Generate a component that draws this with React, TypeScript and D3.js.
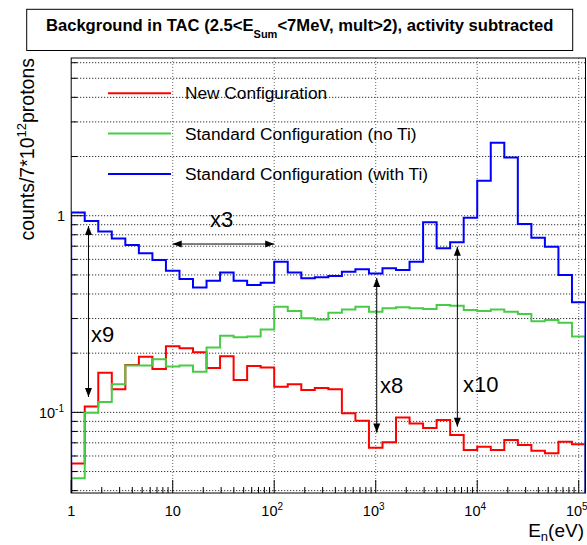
import * as d3 from "d3"

// histogram binning: 38 log bins, 7.5 per decade, starting at 1 eV
const nBins = 38
const binsPerDecade = 7.5

// counts / 7*10^12 protons, one value per bin
const newConfig = [
  0.055, 0.107, 0.159, 0.131, 0.174, 0.192, 0.166, 0.217, 0.212, 0.202,
  0.168, 0.193, 0.146, 0.172, 0.169, 0.135, 0.139, 0.13, 0.133, 0.131,
  0.099, 0.0906, 0.066, 0.0704, 0.0943, 0.0879, 0.0832, 0.0914, 0.0767, 0.0643,
  0.0668, 0.0643, 0.0723, 0.0682, 0.0638, 0.0619, 0.0709, 0.0688,
]
const stdNoTi = [
  0.0463, 0.0995, 0.113, 0.139, 0.173, 0.173, 0.186, 0.171, 0.173, 0.161,
  0.214, 0.245, 0.241, 0.243, 0.264, 0.344, 0.328, 0.301, 0.297, 0.321,
  0.334, 0.344, 0.325, 0.338, 0.342, 0.338, 0.335, 0.352, 0.348, 0.332,
  0.328, 0.334, 0.325, 0.316, 0.291, 0.295, 0.286, 0.243,
]
const stdWithTi = [
  1.04, 0.94, 0.831, 0.766, 0.71, 0.644, 0.595, 0.525, 0.476, 0.432,
  0.467, 0.515, 0.467, 0.444, 0.456, 0.583, 0.515, 0.481, 0.486, 0.494,
  0.519, 0.534, 0.509, 0.54, 0.529, 0.583, 0.926, 0.683, 0.732, 0.977,
  1.507, 2.35, 1.98, 0.908, 0.773, 0.695, 0.499, 0.363,
]

const seriesNames = [
  "New Configuration",
  "Standard Configuration (no Ti)",
  "Standard Configuration (with Ti)",
]
const seriesColors = ["#ff0000", "#48cc48", "#0000ff"]
const seriesValues = [newConfig, stdNoTi, stdWithTi]

const xDecades = [1, 10, 100, 1000, 10000, 100000]
const xDecadeExp = ["", "", "2", "3", "4", "5"]
const yGrid = [
  0.04, 0.05, 0.06, 0.07, 0.08, 0.09, 0.1, 0.2, 0.3, 0.4, 0.5, 0.6, 0.7, 0.8, 0.9,
  1, 2, 3, 4, 5, 6,
]

// factor annotations (data coordinates)
const arrows = [
  { x1: 10, y1: 0.718, x2: 100, y2: 0.718 },
  { x1: 1.48, y1: 0.886, x2: 1.48, y2: 0.1197 },
  { x1: 1023, y1: 0.482, x2: 1023, y2: 0.0789 },
  { x1: 6370, y1: 0.696, x2: 6370, y2: 0.0846 },
]
const factorLabels = [
  { x: 23.3, y: 0.876, text: "x3" },
  { x: 1.57, y: 0.2286, text: "x9" },
  { x: 1102, y: 0.1253, text: "x8" },
  { x: 7245, y: 0.1273, text: "x10" },
]

const font = "'Liberation Sans', Arial, Helvetica, sans-serif"

const App = () => {
  const left = 71.2
  const right = 585.5
  const top = 58
  const bottom = 493

  const xMax = Math.pow(10, nBins / binsPerDecade)
  const x = d3.scaleLog().domain([1, xMax]).range([left, right])
  const y = d3.scaleLog().domain([0.0389, 6.34]).range([bottom, top])

  const edges = d3.range(nBins + 1).map((i) => Math.pow(10, i / binsPerDecade))

  const stepPath = (vals: number[]) => {
    let d = `M${x(edges[0])},${bottom}`
    vals.forEach((v, i) => {
      d += `L${x(edges[i])},${y(v)}L${x(edges[i + 1])},${y(v)}`
    })
    d += `L${x(edges[nBins])},${bottom}`
    return d
  }

  const xMinor: number[] = []
  for (let dec = 1; dec < xMax; dec *= 10) {
    for (let k = 2; k <= 9; k++) if (dec * k < xMax) xMinor.push(dec * k)
  }

  const head = (px: number, py: number, dx: number, dy: number) => {
    const len = Math.hypot(dx, dy)
    const ux = dx / len
    const uy = dy / len
    const L = 9
    const W = 3.5
    const bx = px - ux * L
    const by = py - uy * L
    return `M${px},${py}L${bx - uy * W},${by + ux * W}L${bx + uy * W},${by - ux * W}Z`
  }

  return (
    <svg
      width={587}
      height={545}
      style={{ position: "absolute", left: 0, top: 0, background: "#fff" }}
      fontFamily={font}
    >
      <defs>
        <clipPath id="frame">
          <rect x={left} y={top} width={right - left} height={bottom - top} />
        </clipPath>
      </defs>

      {/* grid */}
      {yGrid.map((v) => (
        <line
          key={"gy" + v}
          x1={left}
          x2={right}
          y1={y(v)}
          y2={y(v)}
          stroke="#000"
          strokeWidth={1}
          strokeDasharray="1,2"
        />
      ))}
      {xDecades.slice(1).map((v) => (
        <line
          key={"gx" + v}
          x1={x(v)}
          x2={x(v)}
          y1={top}
          y2={bottom}
          stroke="#666"
          strokeWidth={1}
          strokeDasharray="1,2"
        />
      ))}

      {/* histograms */}
      <g clipPath="url(#frame)">
        {seriesValues.map((vals, i) => (
          <path key={i} d={stepPath(vals)} fill="none" stroke={seriesColors[i]} strokeWidth={2} />
        ))}
      </g>

      {/* frame and ticks */}
      <rect x={left} y={top} width={right - left} height={bottom - top} fill="none" stroke="#000" strokeWidth={1} />
      {yGrid.map((v) => {
        const major = v === 0.1 || v === 1
        return <line key={"ty" + v} x1={left} x2={left + (major ? 12 : 6)} y1={y(v)} y2={y(v)} stroke="#000" />
      })}
      {xDecades.map((v) => (
        <line key={"tx" + v} x1={x(v)} x2={x(v)} y1={bottom} y2={bottom - 13} stroke="#000" />
      ))}
      {xMinor.map((v) => (
        <line key={"tm" + v} x1={x(v)} x2={x(v)} y1={bottom} y2={bottom - 6} stroke="#000" />
      ))}

      {/* x tick labels */}
      {xDecades.map((v, i) => (
        <text key={"lx" + v} x={x(v) + (xDecadeExp[i] ? -2 : 0)} y={516} fontSize={14.5} textAnchor="middle">
          {v === 1 ? "1" : "10"}
          {xDecadeExp[i] && (
            <tspan fontSize={10} dy={-6}>
              {xDecadeExp[i]}
            </tspan>
          )}
        </text>
      ))}

      {/* y tick labels */}
      <text x={65} y={y(1) + 5} fontSize={14.5} textAnchor="end">
        1
      </text>
      <text x={64} y={y(0.1) + 6} fontSize={14.5} textAnchor="end">
        10
        <tspan fontSize={10} dy={-6}>
          -1
        </tspan>
      </text>

      {/* axis titles */}
      <text x={584} y={537} fontSize={19} textAnchor="end">
        E
        <tspan fontSize={13} dy={4}>
          n
        </tspan>
        <tspan dy={-4}>(eV)</tspan>
      </text>
      <text transform={`translate(34,${top}) rotate(-90)`} fontSize={19.5} textAnchor="end">
        counts/7*10
        <tspan fontSize={13} dy={-8}>
          12
        </tspan>
        <tspan dy={8}>protons</tspan>
      </text>

      {/* legend */}
      {seriesNames.map((name, i) => {
        const ly = 93.3 + i * 40.3
        return (
          <g key={name}>
            <line x1={108} x2={171} y1={ly} y2={ly} stroke={seriesColors[i]} strokeWidth={2} />
            <text x={185} y={ly + 6} fontSize={17.3}>
              {name}
            </text>
          </g>
        )
      })}

      {/* factor arrows */}
      {arrows.map((a, i) => {
        const x1 = x(a.x1)
        const y1 = y(a.y1)
        const x2 = x(a.x2)
        const y2 = y(a.y2)
        return (
          <g key={"ar" + i}>
            <line x1={x1} y1={y1} x2={x2} y2={y2} stroke="#000" strokeWidth={1} />
            <path d={head(x1, y1, x1 - x2, y1 - y2)} fill="#000" />
            <path d={head(x2, y2, x2 - x1, y2 - y1)} fill="#000" />
          </g>
        )
      })}
      {factorLabels.map((l) => (
        <text key={l.text} x={x(l.x)} y={y(l.y)} fontSize={22}>
          {l.text}
        </text>
      ))}

      {/* title box */}
      <rect x={26.7} y={9.3} width={546} height={41.2} fill="#fff" stroke="#000" strokeWidth={1} />
      <text x={299.7} y={31} fontSize={16.6} fontWeight="bold" textAnchor="middle">
        Background in TAC (2.5&lt;E
        <tspan fontSize={11} dy={7}>
          Sum
        </tspan>
        <tspan dy={-7}>&lt;7MeV, mult&gt;2), activity subtracted</tspan>
      </text>
    </svg>
  )
}

export default App
